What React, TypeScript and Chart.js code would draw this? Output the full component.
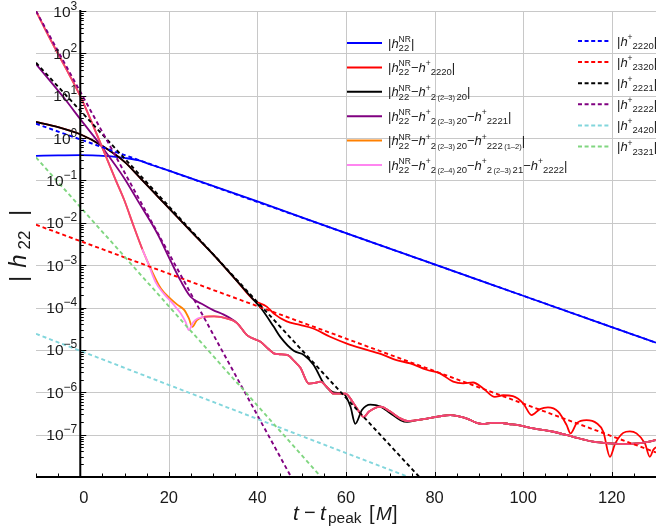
import React, { useEffect, useRef } from "react";
import { Chart, registerables } from "chart.js";

Chart.register(...registerables);

type P = [number, number];

const FONT = '"Liberation Sans", Arial, Helvetica, sans-serif';

// ---------- data (t - t_peak [M], |h|) ----------
const hNR: P[] = [[-10, 0.38], [-5, 0.39], [0, 0.395], [4, 0.385], [7, 0.37], [10, 0.34], [13, 0.3], [16, 0.235], [20, 0.17], [40, 0.032], [60, 5.7e-3], [80, 1.05e-3], [100, 1.9e-4], [130, 1.48e-5]];

const residEarly: P[] = [[-10, 2.4], [-5, 1.82], [0, 1.23], [5, 0.65], [10, 0.275], [13.6, 0.112], [18.2, 0.035], [25, 6.3e-3], [30, 1.8e-3], [35.4, 4.2e-4], [39.2, 1.5e-4]];

const resid2220Late: P[] = [[42.1, 1.05e-4], [43.7, 7.2e-5], [46.6, 4.7e-5], [49.6, 3.9e-5], [52.6, 3.2e-5], [56.4, 2.04e-5], [60.2, 1.41e-5], [64.7, 1.0e-5], [68.4, 7.6e-6], [71.4, 5.75e-6], [74.5, 4.8e-6], [78.2, 3.4e-6], [81.2, 2.8e-6], [84.2, 1.78e-6], [86.5, 1.62e-6], [88.7, 1.7e-6], [91, 1.23e-6], [93.6, 7.8e-7], [95.5, 8.5e-7], [97.7, 8.1e-7], [100, 5.5e-7], [101.9, 2.9e-7], [103.8, 4.0e-7], [105.6, 4.4e-7], [107.9, 3.5e-7], [109.8, 1.7e-7], [110.7, 1.07e-7], [112.1, 1.86e-7], [114.3, 2.2e-7], [116.6, 1.86e-7], [118.1, 1.17e-7], [119.6, 3.0e-8], [120.8, 6.2e-8], [122.6, 1.1e-7], [124.1, 1.2e-7], [125.6, 1.07e-7], [127.5, 6.2e-8], [128.6, 3.0e-8], [129.4, 4.4e-8], [130, 5.1e-8]];

const resid2320Late: P[] = [[40.7, 1.0e-4], [43.7, 3.5e-5], [45.2, 2.0e-5], [48.2, 9.5e-6], [50.5, 7.6e-6], [52.7, 4.4e-6], [55, 1.6e-6], [57.2, 1.0e-6], [59.5, 9.1e-7], [61, 4.6e-7], [62.1, 1.8e-7], [63.6, 3.8e-7], [65.5, 5.1e-7], [67.8, 4.6e-7], [70, 3.2e-7], [72.3, 2.2e-7], [73.8, 2.0e-7]];

const residFloor: P[] = [[27.9, 6.0e-5], [30.2, 6.2e-5], [33.2, 5.5e-5], [35.4, 4.3e-5], [37.7, 2.2e-5], [40.7, 1.55e-5], [42.5, 1.05e-5], [43.7, 8.3e-6], [45, 7.9e-6], [46.7, 7.6e-6], [48.5, 5.2e-6], [49.7, 3.8e-6], [51.6, 1.6e-6], [53, 1.66e-6], [54.2, 1.78e-6], [55.8, 1.3e-6], [57.2, 9.3e-7], [59.9, 9.3e-7], [61.7, 5.5e-7], [63.2, 3.2e-7], [64, 2.6e-7], [65.2, 3.5e-7], [67.8, 4.6e-7], [70, 3.5e-7], [72, 2.5e-7], [73.8, 2.1e-7], [76, 2.2e-7], [78.3, 2.4e-7], [81, 2.7e-7], [83.5, 2.9e-7], [85.5, 2.7e-7], [87.3, 2.4e-7], [89.5, 1.9e-7], [91, 1.78e-7], [93, 1.9e-7], [94.8, 1.9e-7], [96.8, 1.78e-7], [98.6, 1.7e-7], [102.3, 1.4e-7], [106.8, 1.17e-7], [111.3, 8.9e-8], [115.8, 6.8e-8], [119.6, 6.2e-8], [123.4, 6.0e-8], [127.1, 6.5e-8], [130, 7.4e-8]];

const purpleEarly: P[] = [[-10, 56], [-3.3, 7.9], [0, 2.8], [5, 0.6], [10, 0.11], [13, 0.033], [17.4, 5.6e-3], [20.4, 1.26e-3], [22.7, 4.2e-4], [24.9, 1.8e-4], [27.9, 1.15e-4], [30, 8.7e-5], [32.4, 6.8e-5]];

const steepEarly: P[] = [[-10, 1000], [-7, 240], [-3.7, 54], [0, 9.8], [4, 1.05], [8, 0.102], [9.9, 0.035], [12.1, 8.1e-3], [14, 2.4e-3]];
const orangeMid: P[] = [[15.9, 8.3e-4], [18.2, 2.8e-4], [20.4, 1.6e-4], [21.9, 1.17e-4], [23.5, 8.7e-5], [24.5, 5.6e-5], [25.3, 3.5e-5], [26.3, 5.0e-5], [27.5, 5.9e-5], [29, 6.2e-5]];
const pinkMid: P[] = [[15.2, 1.2e-3], [17, 4.0e-4], [18.9, 2.1e-4], [21, 1.2e-4], [22.7, 7.2e-5], [23.8, 4.5e-5], [24.5, 2.95e-5], [25.5, 4.5e-5], [26.5, 5.5e-5]];

// single-mode fits (dashed)
const h2220: P[] = [[-10, 2.18], [20, 0.17], [60, 5.7e-3], [100, 1.9e-4], [130, 1.48e-5]];
const h2320: P[] = [[-10, 9.0e-3], [20, 6.3e-4], [60, 1.85e-5], [100, 5.4e-7], [130, 3.8e-8]];
const h2221: P[] = [[-10, 60], [20, 0.0245], [60, 7.4e-7], [80, 4.1e-9]];
const h2222: P[] = [[-10, 1.0e3], [20, 1.9e-3], [50, 3.5e-9]];
const h2420: P[] = [[-10, 2.4e-5], [30, 5.9e-7], [80, 5.8e-9]];
const h2321: P[] = [[-10, 0.35], [20, 1.07e-4], [60, 2.2e-9]];

const xGrid = [20, 40, 60, 80, 100, 120];
const xLabels = [0, 20, 40, 60, 80, 100, 120];
const yDecades = [3, 2, 1, 0, -1, -2, -3, -4, -5, -6, -7];

const BLUE = "#0000ff", RED = "#ff0000", BLACK = "#000000", PURPLE = "#800080", ORANGE = "#ff8000";
const PINK = "#ff85f0", PINK_DEEP = "#f2417a", CYAN = "#82d6dc", GREEN = "#80d680";
const GRID = "#c8c8c8", TEXT = "#1a1a1a";

const from = (arr: P[], t: number) => arr.filter((p) => p[0] >= t);

// ---------- legend text tokens ----------
type Tok = [string, string, string?];
const NR: Tok[] = [["n", "|"], ["i", "h"], ["ss", "NR", "22"]];
const mH: Tok[] = [["n", "−"], ["i", "h"], ["sup", "+"]];
const g: Tok = ["gap", "1.5"];
const s23_20: Tok[] = [["sub", "2"], g, ["subs", "(2–3)"], g, ["sub", "20"]];
const leftLegend: { color: string; toks: Tok[] }[] = [
  { color: BLUE, toks: [...NR, ["n", "|"]] },
  { color: RED, toks: [...NR, ...mH, ["sub", "2220"], ["n", "|"]] },
  { color: BLACK, toks: [...NR, ...mH, ...s23_20, ["n", "|"]] },
  { color: PURPLE, toks: [...NR, ...mH, ...s23_20, ...mH, ["sub", "2221"], ["n", "|"]] },
  { color: ORANGE, toks: [...NR, ...mH, ...s23_20, ...mH, ["sub", "222"], g, ["subs", "(1–2)"], ["n", "|"]] },
  { color: PINK, toks: [...NR, ...mH, ["sub", "2"], g, ["subs", "(2–4)"], g, ["sub", "20"], ...mH, ["sub", "2"], g, ["subs", "(2–3)"], g, ["sub", "21"], ...mH, ["sub", "2222"], ["n", "|"]] },
];
const rightModes = ["2220", "2320", "2221", "2222", "2420", "2321"];
const rightColors = [BLUE, RED, BLACK, PURPLE, CYAN, GREEN];

function drawRich(ctx: CanvasRenderingContext2D, toks: Tok[], x: number, y: number) {
  let cx = x;
  for (const [k, a, b] of toks) {
    if (k === "gap") { cx += Number(a); continue; }
    if (k === "ss") {
      ctx.font = `8.5px ${FONT}`;
      ctx.fillText(a, cx, y - 5.5);
      const w1 = ctx.measureText(a).width;
      ctx.font = `9.5px ${FONT}`;
      ctx.fillText(b as string, cx, y + 3.5);
      const w2 = ctx.measureText(b as string).width;
      cx += Math.max(w1, w2);
      continue;
    }
    let font = `13px ${FONT}`, dy = 0;
    if (k === "i") font = `italic 13px ${FONT}`;
    else if (k === "sup") { font = `8.5px ${FONT}`; dy = -5.5; }
    else if (k === "sub") { font = `9.5px ${FONT}`; dy = 3.5; }
    else if (k === "subs") { font = `7.5px ${FONT}`; dy = 3.5; }
    ctx.font = font;
    ctx.fillText(a, cx, y + dy);
    cx += ctx.measureText(a).width;
  }
}

const drawPlugin = {
  id: "customAxes",
  beforeDatasetsDraw(chart: any) {
    const ctx: CanvasRenderingContext2D = chart.ctx;
    const { left, right, top, bottom } = chart.chartArea;
    const xs = chart.scales.x, ys = chart.scales.y;
    ctx.save();
    ctx.strokeStyle = GRID;
    ctx.lineWidth = 1;
    ctx.beginPath();
    for (const v of xGrid) {
      const px = Math.round(xs.getPixelForValue(v)) + 0.5;
      ctx.moveTo(px, top); ctx.lineTo(px, bottom);
    }
    for (const d of yDecades) {
      const py = Math.round(ys.getPixelForValue(Math.pow(10, d))) + 0.5;
      ctx.moveTo(left, py); ctx.lineTo(right, py);
    }
    ctx.stroke();
    ctx.restore();
  },
  afterDatasetsDraw(chart: any) {
    const ctx: CanvasRenderingContext2D = chart.ctx;
    const { left, right, top, bottom } = chart.chartArea;
    const xs = chart.scales.x, ys = chart.scales.y;
    const x0 = xs.getPixelForValue(0);
    ctx.save();
    // axes
    ctx.strokeStyle = "#000";
    ctx.lineWidth = 2;
    ctx.beginPath();
    ctx.moveTo(x0, top - 1); ctx.lineTo(x0, bottom + 1);
    ctx.moveTo(left, bottom); ctx.lineTo(right, bottom);
    ctx.stroke();
    // y ticks
    ctx.lineWidth = 1;
    ctx.beginPath();
    for (let k = -8; k <= 2; k++) {
      for (let m = 1; m <= 9; m++) {
        if (k === -8 && m === 1) continue;
        const py = Math.round(ys.getPixelForValue(m * Math.pow(10, k))) + 0.5;
        const len = m === 1 ? 6 : 3.5;
        ctx.moveTo(x0, py); ctx.lineTo(x0 + len, py);
      }
    }
    {
      const py = Math.round(ys.getPixelForValue(1000)) + 0.5;
      ctx.moveTo(x0, py); ctx.lineTo(x0 + 6, py);
    }
    // x ticks
    for (let t = -10; t <= 125; t += 5) {
      if (t === 0) continue;
      const px = Math.round(xs.getPixelForValue(t)) + 0.5;
      const len = t % 20 === 0 ? 5 : 3.5;
      ctx.moveTo(px, bottom); ctx.lineTo(px, bottom - len);
    }
    ctx.stroke();

    // tick labels
    ctx.fillStyle = TEXT;
    ctx.textBaseline = "alphabetic";
    for (const k of yDecades) {
      const py = ys.getPixelForValue(Math.pow(10, k));
      const exp = k < 0 ? "−" + -k : String(k);
      ctx.font = `12px ${FONT}`;
      const we = ctx.measureText(exp).width;
      ctx.font = `15.5px ${FONT}`;
      const wb = ctx.measureText("10").width;
      const xr = x0 - 3;
      ctx.textAlign = "left";
      ctx.fillText("10", xr - we - wb, py + 5.5);
      ctx.font = `12px ${FONT}`;
      ctx.fillText(exp, xr - we, py - 1.5);
    }
    ctx.font = `16.5px ${FONT}`;
    ctx.textAlign = "center";
    for (const v of xLabels) {
      const px = xs.getPixelForValue(v) + (v === 0 ? 3.5 : 0);
      ctx.fillText(String(v), px, 503);
    }

    // x title
    ctx.textAlign = "left";
    ctx.font = `italic 21px ${FONT}`;
    ctx.fillText("t", 293, 520);
    ctx.font = `20px ${FONT}`;
    ctx.fillText("−", 304, 519);
    ctx.font = `italic 21px ${FONT}`;
    ctx.fillText("t", 320, 520);
    ctx.font = `15.5px ${FONT}`;
    ctx.fillText("peak", 328, 523);
    ctx.font = `20px ${FONT}`;
    ctx.fillText("[", 369, 520);
    ctx.font = `italic 19px ${FONT}`;
    ctx.fillText("M", 376, 520);
    ctx.font = `20px ${FONT}`;
    ctx.fillText("]", 392, 520);

    // y title (rotated)
    ctx.save();
    ctx.translate(26, 245);
    ctx.rotate(-Math.PI / 2);
    ctx.textAlign = "center";
    ctx.font = `24px ${FONT}`;
    ctx.fillText("|", -34, 0);
    ctx.font = `italic 24px ${FONT}`;
    ctx.fillText("h", -16, 0);
    ctx.font = `17px ${FONT}`;
    ctx.fillText("22", 5, 4);
    ctx.font = `24px ${FONT}`;
    ctx.fillText("|", 32, 0);
    ctx.restore();

    // legend
    ctx.textAlign = "left";
    ctx.lineWidth = 2;
    leftLegend.forEach((e, i) => {
      const y = 43 + 24.4 * i;
      ctx.setLineDash([]);
      ctx.strokeStyle = e.color;
      ctx.beginPath(); ctx.moveTo(347, y); ctx.lineTo(382, y); ctx.stroke();
      ctx.fillStyle = TEXT;
      drawRich(ctx, e.toks, 388, y + 4.5);
    });
    rightModes.forEach((m, i) => {
      const y = 41 + 21.1 * i;
      ctx.setLineDash([4, 2.6]);
      ctx.strokeStyle = rightColors[i];
      ctx.beginPath(); ctx.moveTo(578, y); ctx.lineTo(609, y); ctx.stroke();
      ctx.setLineDash([]);
      ctx.fillStyle = TEXT;
      drawRich(ctx, [["n", "|"], ["i", "h"], ["sup", "+"], ["sub", m], ["n", "|"]], 617, y + 4.5);
    });
    ctx.restore();
  },
};

function line(data: P[], color: string, dashed: boolean, extra: any = {}) {
  return {
    data: data.map(([x, y]) => ({ x, y })),
    borderColor: color,
    borderWidth: dashed ? 1.9 : 1.8,
    borderDash: dashed ? [4, 3] : [],
    pointRadius: 0,
    fill: false,
    cubicInterpolationMode: "monotone",
    ...extra,
  };
}

export default function App() {
  const ref = useRef<HTMLCanvasElement>(null);
  useEffect(() => {
    const layers = [
      line(hNR, BLUE, false),
      line([...residEarly, ...resid2220Late], RED, false),
      line([...residEarly, ...resid2320Late, ...from(residFloor, 76)], BLACK, false),
      line([...purpleEarly, ...from(residFloor, 35.4)], PURPLE, false),
      line([...steepEarly, ...orangeMid, ...from(residFloor, 30.2)], ORANGE, false),
      line([...steepEarly, ...pinkMid, ...residFloor], PINK_DEEP, false, {
        segment: {
          borderColor: (c: any) => (c.p0.parsed.x >= 13.9 && c.p0.parsed.x < 27.8 ? PINK : PINK_DEEP),
        },
      }),
      line(h2220, BLUE, true),
      line(h2320, RED, true),
      line(h2221, BLACK, true),
      line(h2222, PURPLE, true),
      line(h2420, CYAN, true),
      line(h2321, GREEN, true),
    ];
    const datasets = layers.map((d, i) => ({ ...d, order: layers.length - i }));
    const chart = new Chart(ref.current as HTMLCanvasElement, {
      type: "line",
      data: { datasets } as any,
      options: {
        animation: false,
        responsive: false,
        devicePixelRatio: 1,
        events: [],
        layout: { padding: { left: 36, top: 11, right: 0, bottom: 50 } },
        scales: {
          x: { type: "linear", min: -10, max: 130, display: false },
          y: { type: "logarithmic", min: 1e-8, max: 1e3, display: false },
        },
        plugins: { legend: { display: false }, tooltip: { enabled: false } },
      } as any,
      plugins: [drawPlugin as any],
    });
    return () => chart.destroy();
  }, []);
  return (
    <div style={{ position: "absolute", left: 0, top: 0, width: 656, height: 527, background: "#fff" }}>
      <canvas ref={ref} width={656} height={527} style={{ display: "block" }} />
    </div>
  );
}
